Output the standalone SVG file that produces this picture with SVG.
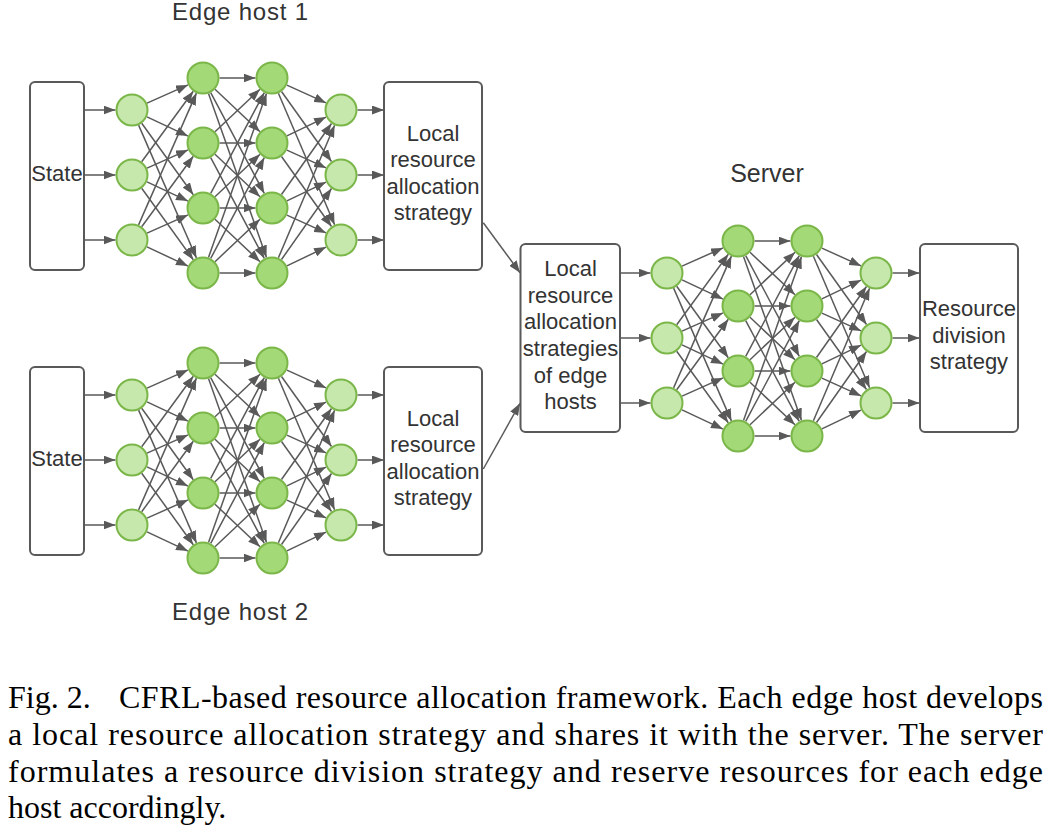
<svg xmlns="http://www.w3.org/2000/svg" width="1048" height="833" viewBox="0 0 1048 833">
<style>
.c{stroke:#595959;stroke-width:1.5;fill:none;marker-end:url(#arr)}
.box{fill:#fff;stroke:#595959;stroke-width:2}
.nl{fill:#c7e8ac;stroke:#7ab648;stroke-width:2}
.nd{fill:#a3d977;stroke:#7ab648;stroke-width:2}
.t{font-family:"Liberation Sans",Arial,sans-serif;font-size:22px;fill:#333;text-anchor:middle}
.lbl{font-family:"Liberation Sans",Arial,sans-serif;fill:#333;text-anchor:middle}
.cap{font-family:"Liberation Serif","Times New Roman",serif;font-size:32px;fill:#000}
</style>
<defs>
<marker id="arr" markerUnits="userSpaceOnUse" markerWidth="12" markerHeight="9" viewBox="0 0 12 9" refX="12" refY="4.5" orient="auto">
<path d="M0,0 L12,4.5 L0,9 Z" fill="#595959"/>
</marker>
</defs>
<rect width="1048" height="833" fill="#fff"/>

<g id="connectors">
<line class="c" x1="483.3" y1="222.7" x2="520" y2="272.7"/>
<line class="c" x1="483.3" y1="469" x2="520" y2="403.3"/>
<g id="conn-host1">
<line class="c" x1="84" y1="110" x2="115.5" y2="110"/>
<line class="c" x1="84" y1="175" x2="115.5" y2="175"/>
<line class="c" x1="84" y1="240" x2="115.5" y2="240"/>
<line class="c" x1="147" y1="103.1" x2="188" y2="84.9"/>
<line class="c" x1="147" y1="116.9" x2="188" y2="136.1"/>
<line class="c" x1="141.7" y1="123.3" x2="193.3" y2="194.7"/>
<line class="c" x1="138.6" y1="125.1" x2="196.4" y2="257.9"/>
<line class="c" x1="141.7" y1="161.7" x2="193.3" y2="91.3"/>
<line class="c" x1="147" y1="168.1" x2="188" y2="149.9"/>
<line class="c" x1="147" y1="181.9" x2="188" y2="201.1"/>
<line class="c" x1="141.7" y1="188.3" x2="193.3" y2="259.7"/>
<line class="c" x1="138.6" y1="224.9" x2="196.4" y2="93.1"/>
<line class="c" x1="141.7" y1="226.7" x2="193.3" y2="156.3"/>
<line class="c" x1="147" y1="233.1" x2="188" y2="214.9"/>
<line class="c" x1="147" y1="246.9" x2="188" y2="266.1"/>
<line class="c" x1="219.5" y1="78" x2="255.5" y2="78"/>
<line class="c" x1="215" y1="89.3" x2="260" y2="131.7"/>
<line class="c" x1="210.7" y1="92.6" x2="264.3" y2="193.4"/>
<line class="c" x1="208.5" y1="93.6" x2="266.5" y2="257.4"/>
<line class="c" x1="215" y1="131.7" x2="260" y2="89.3"/>
<line class="c" x1="219.5" y1="143" x2="255.5" y2="143"/>
<line class="c" x1="215" y1="154.3" x2="260" y2="196.7"/>
<line class="c" x1="210.7" y1="157.6" x2="264.3" y2="258.4"/>
<line class="c" x1="210.7" y1="193.4" x2="264.3" y2="92.6"/>
<line class="c" x1="215" y1="196.7" x2="260" y2="154.3"/>
<line class="c" x1="219.5" y1="208" x2="255.5" y2="208"/>
<line class="c" x1="215" y1="219.3" x2="260" y2="261.7"/>
<line class="c" x1="208.5" y1="257.4" x2="266.5" y2="93.6"/>
<line class="c" x1="210.7" y1="258.4" x2="264.3" y2="157.6"/>
<line class="c" x1="215" y1="261.7" x2="260" y2="219.3"/>
<line class="c" x1="219.5" y1="273" x2="255.5" y2="273"/>
<line class="c" x1="286.9" y1="85.1" x2="326.1" y2="102.9"/>
<line class="c" x1="281.5" y1="91.5" x2="331.5" y2="161.5"/>
<line class="c" x1="278.4" y1="93.2" x2="334.6" y2="224.8"/>
<line class="c" x1="286.9" y1="135.9" x2="326.1" y2="117.1"/>
<line class="c" x1="286.9" y1="150.1" x2="326.1" y2="167.9"/>
<line class="c" x1="281.5" y1="156.5" x2="331.5" y2="226.5"/>
<line class="c" x1="281.5" y1="194.5" x2="331.5" y2="123.5"/>
<line class="c" x1="286.9" y1="200.9" x2="326.1" y2="182.1"/>
<line class="c" x1="286.9" y1="215.1" x2="326.1" y2="232.9"/>
<line class="c" x1="278.4" y1="257.8" x2="334.6" y2="125.2"/>
<line class="c" x1="281.5" y1="259.5" x2="331.5" y2="188.5"/>
<line class="c" x1="286.9" y1="265.9" x2="326.1" y2="247.1"/>
<line class="c" x1="357.5" y1="110" x2="384" y2="110"/>
<line class="c" x1="357.5" y1="175" x2="384" y2="175"/>
<line class="c" x1="357.5" y1="240" x2="384" y2="240"/>
</g>
<g id="conn-host2" transform="translate(0,285)">
<line class="c" x1="84" y1="110" x2="115.5" y2="110"/>
<line class="c" x1="84" y1="175" x2="115.5" y2="175"/>
<line class="c" x1="84" y1="240" x2="115.5" y2="240"/>
<line class="c" x1="147" y1="103.1" x2="188" y2="84.9"/>
<line class="c" x1="147" y1="116.9" x2="188" y2="136.1"/>
<line class="c" x1="141.7" y1="123.3" x2="193.3" y2="194.7"/>
<line class="c" x1="138.6" y1="125.1" x2="196.4" y2="257.9"/>
<line class="c" x1="141.7" y1="161.7" x2="193.3" y2="91.3"/>
<line class="c" x1="147" y1="168.1" x2="188" y2="149.9"/>
<line class="c" x1="147" y1="181.9" x2="188" y2="201.1"/>
<line class="c" x1="141.7" y1="188.3" x2="193.3" y2="259.7"/>
<line class="c" x1="138.6" y1="224.9" x2="196.4" y2="93.1"/>
<line class="c" x1="141.7" y1="226.7" x2="193.3" y2="156.3"/>
<line class="c" x1="147" y1="233.1" x2="188" y2="214.9"/>
<line class="c" x1="147" y1="246.9" x2="188" y2="266.1"/>
<line class="c" x1="219.5" y1="78" x2="255.5" y2="78"/>
<line class="c" x1="215" y1="89.3" x2="260" y2="131.7"/>
<line class="c" x1="210.7" y1="92.6" x2="264.3" y2="193.4"/>
<line class="c" x1="208.5" y1="93.6" x2="266.5" y2="257.4"/>
<line class="c" x1="215" y1="131.7" x2="260" y2="89.3"/>
<line class="c" x1="219.5" y1="143" x2="255.5" y2="143"/>
<line class="c" x1="215" y1="154.3" x2="260" y2="196.7"/>
<line class="c" x1="210.7" y1="157.6" x2="264.3" y2="258.4"/>
<line class="c" x1="210.7" y1="193.4" x2="264.3" y2="92.6"/>
<line class="c" x1="215" y1="196.7" x2="260" y2="154.3"/>
<line class="c" x1="219.5" y1="208" x2="255.5" y2="208"/>
<line class="c" x1="215" y1="219.3" x2="260" y2="261.7"/>
<line class="c" x1="208.5" y1="257.4" x2="266.5" y2="93.6"/>
<line class="c" x1="210.7" y1="258.4" x2="264.3" y2="157.6"/>
<line class="c" x1="215" y1="261.7" x2="260" y2="219.3"/>
<line class="c" x1="219.5" y1="273" x2="255.5" y2="273"/>
<line class="c" x1="286.9" y1="85.1" x2="326.1" y2="102.9"/>
<line class="c" x1="281.5" y1="91.5" x2="331.5" y2="161.5"/>
<line class="c" x1="278.4" y1="93.2" x2="334.6" y2="224.8"/>
<line class="c" x1="286.9" y1="135.9" x2="326.1" y2="117.1"/>
<line class="c" x1="286.9" y1="150.1" x2="326.1" y2="167.9"/>
<line class="c" x1="281.5" y1="156.5" x2="331.5" y2="226.5"/>
<line class="c" x1="281.5" y1="194.5" x2="331.5" y2="123.5"/>
<line class="c" x1="286.9" y1="200.9" x2="326.1" y2="182.1"/>
<line class="c" x1="286.9" y1="215.1" x2="326.1" y2="232.9"/>
<line class="c" x1="278.4" y1="257.8" x2="334.6" y2="125.2"/>
<line class="c" x1="281.5" y1="259.5" x2="331.5" y2="188.5"/>
<line class="c" x1="286.9" y1="265.9" x2="326.1" y2="247.1"/>
<line class="c" x1="357.5" y1="110" x2="384" y2="110"/>
<line class="c" x1="357.5" y1="175" x2="384" y2="175"/>
<line class="c" x1="357.5" y1="240" x2="384" y2="240"/>
</g>
<g id="conn-server" transform="translate(535,163)">
<line class="c" x1="85" y1="110" x2="115.5" y2="110"/>
<line class="c" x1="85" y1="175" x2="115.5" y2="175"/>
<line class="c" x1="85" y1="240" x2="115.5" y2="240"/>
<line class="c" x1="147" y1="103.1" x2="188" y2="84.9"/>
<line class="c" x1="147" y1="116.9" x2="188" y2="136.1"/>
<line class="c" x1="141.7" y1="123.3" x2="193.3" y2="194.7"/>
<line class="c" x1="138.6" y1="125.1" x2="196.4" y2="257.9"/>
<line class="c" x1="141.7" y1="161.7" x2="193.3" y2="91.3"/>
<line class="c" x1="147" y1="168.1" x2="188" y2="149.9"/>
<line class="c" x1="147" y1="181.9" x2="188" y2="201.1"/>
<line class="c" x1="141.7" y1="188.3" x2="193.3" y2="259.7"/>
<line class="c" x1="138.6" y1="224.9" x2="196.4" y2="93.1"/>
<line class="c" x1="141.7" y1="226.7" x2="193.3" y2="156.3"/>
<line class="c" x1="147" y1="233.1" x2="188" y2="214.9"/>
<line class="c" x1="147" y1="246.9" x2="188" y2="266.1"/>
<line class="c" x1="219.5" y1="78" x2="255.5" y2="78"/>
<line class="c" x1="215" y1="89.3" x2="260" y2="131.7"/>
<line class="c" x1="210.7" y1="92.6" x2="264.3" y2="193.4"/>
<line class="c" x1="208.5" y1="93.6" x2="266.5" y2="257.4"/>
<line class="c" x1="215" y1="131.7" x2="260" y2="89.3"/>
<line class="c" x1="219.5" y1="143" x2="255.5" y2="143"/>
<line class="c" x1="215" y1="154.3" x2="260" y2="196.7"/>
<line class="c" x1="210.7" y1="157.6" x2="264.3" y2="258.4"/>
<line class="c" x1="210.7" y1="193.4" x2="264.3" y2="92.6"/>
<line class="c" x1="215" y1="196.7" x2="260" y2="154.3"/>
<line class="c" x1="219.5" y1="208" x2="255.5" y2="208"/>
<line class="c" x1="215" y1="219.3" x2="260" y2="261.7"/>
<line class="c" x1="208.5" y1="257.4" x2="266.5" y2="93.6"/>
<line class="c" x1="210.7" y1="258.4" x2="264.3" y2="157.6"/>
<line class="c" x1="215" y1="261.7" x2="260" y2="219.3"/>
<line class="c" x1="219.5" y1="273" x2="255.5" y2="273"/>
<line class="c" x1="286.9" y1="85.1" x2="326.1" y2="102.9"/>
<line class="c" x1="281.5" y1="91.5" x2="331.5" y2="161.5"/>
<line class="c" x1="278.4" y1="93.2" x2="334.6" y2="224.8"/>
<line class="c" x1="286.9" y1="135.9" x2="326.1" y2="117.1"/>
<line class="c" x1="286.9" y1="150.1" x2="326.1" y2="167.9"/>
<line class="c" x1="281.5" y1="156.5" x2="331.5" y2="226.5"/>
<line class="c" x1="281.5" y1="194.5" x2="331.5" y2="123.5"/>
<line class="c" x1="286.9" y1="200.9" x2="326.1" y2="182.1"/>
<line class="c" x1="286.9" y1="215.1" x2="326.1" y2="232.9"/>
<line class="c" x1="278.4" y1="257.8" x2="334.6" y2="125.2"/>
<line class="c" x1="281.5" y1="259.5" x2="331.5" y2="188.5"/>
<line class="c" x1="286.9" y1="265.9" x2="326.1" y2="247.1"/>
<line class="c" x1="357.5" y1="110" x2="384.5" y2="110"/>
<line class="c" x1="357.5" y1="175" x2="384.5" y2="175"/>
<line class="c" x1="357.5" y1="240" x2="384.5" y2="240"/>
</g>
</g>

<g id="labels">
<text class="lbl" x="240" y="19.5" font-size="24" textLength="136" lengthAdjust="spacing">Edge host 1</text>
<text class="lbl" x="240" y="620" font-size="24" textLength="136" lengthAdjust="spacing">Edge host 2</text>
<text class="lbl" x="767" y="181.5" font-size="25">Server</text>
</g>

<g id="host1-state"><rect class="box" x="30" y="82" width="54" height="188" rx="5"/><text class="t" x="57" y="180.5">State</text></g>
<g id="host1-local"><rect class="box" x="384" y="82" width="98" height="188" rx="5"/><text class="t" x="433" y="140.5">Local</text><text class="t" x="433" y="167">resource</text><text class="t" x="433" y="193.5">allocation</text><text class="t" x="433" y="220">strategy</text></g>
<g id="host2-state"><rect class="box" x="30" y="367" width="54" height="188" rx="5"/><text class="t" x="57" y="465.5">State</text></g>
<g id="host2-local"><rect class="box" x="384" y="367" width="98" height="188" rx="5"/><text class="t" x="433" y="425.5">Local</text><text class="t" x="433" y="452">resource</text><text class="t" x="433" y="478.5">allocation</text><text class="t" x="433" y="505">strategy</text></g>
<g id="server-input"><rect class="box" x="520.5" y="244" width="99.5" height="188" rx="5"/><text class="t" x="570.5" y="276">Local</text><text class="t" x="570.5" y="302.7">resource</text><text class="t" x="570.5" y="329.3">allocation</text><text class="t" x="570.5" y="356">strategies</text><text class="t" x="570.5" y="382.7">of edge</text><text class="t" x="570.5" y="409.3">hosts</text></g>
<g id="server-output"><rect class="box" x="920" y="244" width="98" height="188" rx="5"/><text class="t" x="969" y="316">Resource</text><text class="t" x="969" y="342.7">division</text><text class="t" x="969" y="369">strategy</text></g>

<g id="host1-net">
<g id="h1-i1"><circle class="nl" cx="132" cy="110" r="15.5"/></g>
<g id="h1-i2"><circle class="nl" cx="132" cy="175" r="15.5"/></g>
<g id="h1-i3"><circle class="nl" cx="132" cy="240" r="15.5"/></g>
<g id="h1-a1"><circle class="nd" cx="203" cy="78" r="15.5"/></g>
<g id="h1-a2"><circle class="nd" cx="203" cy="143" r="15.5"/></g>
<g id="h1-a3"><circle class="nd" cx="203" cy="208" r="15.5"/></g>
<g id="h1-a4"><circle class="nd" cx="203" cy="273" r="15.5"/></g>
<g id="h1-b1"><circle class="nd" cx="272" cy="78" r="15.5"/></g>
<g id="h1-b2"><circle class="nd" cx="272" cy="143" r="15.5"/></g>
<g id="h1-b3"><circle class="nd" cx="272" cy="208" r="15.5"/></g>
<g id="h1-b4"><circle class="nd" cx="272" cy="273" r="15.5"/></g>
<g id="h1-o1"><circle class="nl" cx="341" cy="110" r="15.5"/></g>
<g id="h1-o2"><circle class="nl" cx="341" cy="175" r="15.5"/></g>
<g id="h1-o3"><circle class="nl" cx="341" cy="240" r="15.5"/></g>
</g>
<g id="host2-net" transform="translate(0,285)">
<g id="h2-i1"><circle class="nl" cx="132" cy="110" r="15.5"/></g>
<g id="h2-i2"><circle class="nl" cx="132" cy="175" r="15.5"/></g>
<g id="h2-i3"><circle class="nl" cx="132" cy="240" r="15.5"/></g>
<g id="h2-a1"><circle class="nd" cx="203" cy="78" r="15.5"/></g>
<g id="h2-a2"><circle class="nd" cx="203" cy="143" r="15.5"/></g>
<g id="h2-a3"><circle class="nd" cx="203" cy="208" r="15.5"/></g>
<g id="h2-a4"><circle class="nd" cx="203" cy="273" r="15.5"/></g>
<g id="h2-b1"><circle class="nd" cx="272" cy="78" r="15.5"/></g>
<g id="h2-b2"><circle class="nd" cx="272" cy="143" r="15.5"/></g>
<g id="h2-b3"><circle class="nd" cx="272" cy="208" r="15.5"/></g>
<g id="h2-b4"><circle class="nd" cx="272" cy="273" r="15.5"/></g>
<g id="h2-o1"><circle class="nl" cx="341" cy="110" r="15.5"/></g>
<g id="h2-o2"><circle class="nl" cx="341" cy="175" r="15.5"/></g>
<g id="h2-o3"><circle class="nl" cx="341" cy="240" r="15.5"/></g>
</g>
<g id="server-net" transform="translate(535,163)">
<g id="s-i1"><circle class="nl" cx="132" cy="110" r="15.5"/></g>
<g id="s-i2"><circle class="nl" cx="132" cy="175" r="15.5"/></g>
<g id="s-i3"><circle class="nl" cx="132" cy="240" r="15.5"/></g>
<g id="s-a1"><circle class="nd" cx="203" cy="78" r="15.5"/></g>
<g id="s-a2"><circle class="nd" cx="203" cy="143" r="15.5"/></g>
<g id="s-a3"><circle class="nd" cx="203" cy="208" r="15.5"/></g>
<g id="s-a4"><circle class="nd" cx="203" cy="273" r="15.5"/></g>
<g id="s-b1"><circle class="nd" cx="272" cy="78" r="15.5"/></g>
<g id="s-b2"><circle class="nd" cx="272" cy="143" r="15.5"/></g>
<g id="s-b3"><circle class="nd" cx="272" cy="208" r="15.5"/></g>
<g id="s-b4"><circle class="nd" cx="272" cy="273" r="15.5"/></g>
<g id="s-o1"><circle class="nl" cx="341" cy="110" r="15.5"/></g>
<g id="s-o2"><circle class="nl" cx="341" cy="175" r="15.5"/></g>
<g id="s-o3"><circle class="nl" cx="341" cy="240" r="15.5"/></g>
</g>

<g id="caption">
<text class="cap" x="8" y="708.3">Fig. 2.</text>
<text class="cap" x="119" y="708.3" textLength="924" lengthAdjust="spacing">CFRL-based resource allocation framework. Each edge host develops</text>
<text class="cap" x="8" y="744.9" textLength="1035" lengthAdjust="spacing">a local resource allocation strategy and shares it with the server. The server</text>
<text class="cap" x="8" y="781.5" textLength="1035" lengthAdjust="spacing">formulates a resource division strategy and reserve resources for each edge</text>
<text class="cap" x="8" y="818">host accordingly.</text>
</g>
</svg>
